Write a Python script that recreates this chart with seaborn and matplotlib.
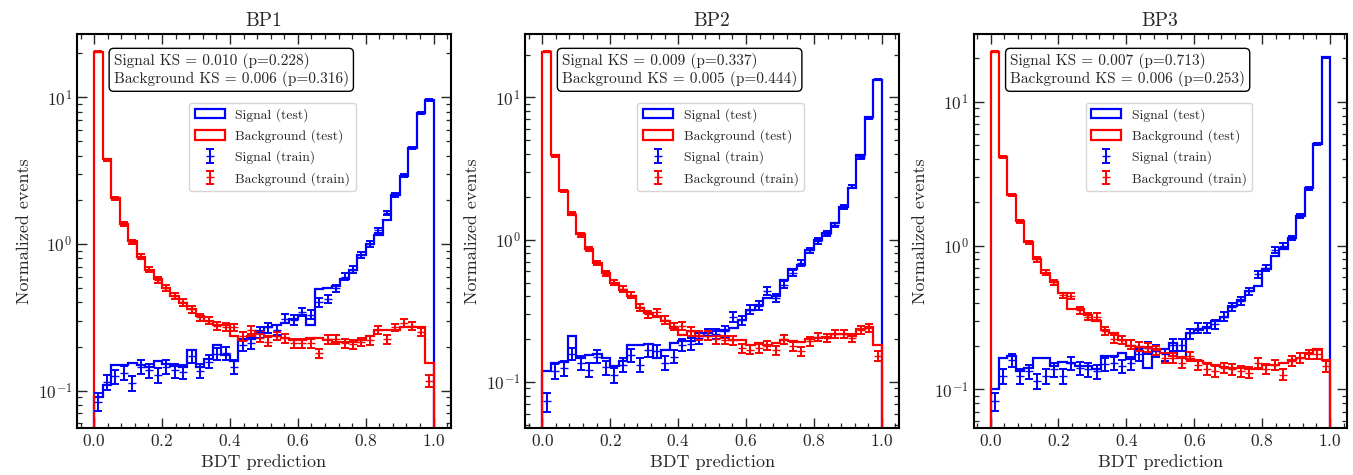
import numpy as np
import matplotlib
matplotlib.use("Agg")
import matplotlib.pyplot as plt
import seaborn as sns
from matplotlib.ticker import AutoMinorLocator

# bin edges of the BDT output (40 bins on [0, 1])
bin_edges = np.linspace(0.0, 1.0, 41)

panel_titles = ["BP1", "BP2", "BP3"]

# normalized test histograms (steps) and train points
sig_test_bp1 = [0.09, 0.11, 0.15, 0.15, 0.155, 0.15, 0.145, 0.16, 0.152, 0.148,
                0.145, 0.19, 0.145, 0.165, 0.205, 0.175, 0.16, 0.22, 0.225, 0.255,
                0.27, 0.28, 0.29, 0.31, 0.33, 0.28, 0.49, 0.50, 0.52, 0.58,
                0.67, 0.84, 1.0, 1.15, 1.46, 2.16, 2.91, 4.49, 7.86, 9.6]
sig_train_bp1 = [0.084, 0.115, 0.125, 0.133, 0.113, 0.146, 0.138, 0.128, 0.146, 0.138,
                 0.135, 0.172, 0.137, 0.158, 0.178, 0.18, 0.146, 0.205, 0.21, 0.25,
                 0.27, 0.26, 0.31, 0.305, 0.345, 0.33, 0.40, 0.425, 0.5, 0.6,
                 0.67, 0.84, 1.0, 1.24, 1.62, 2.16, 2.91, 4.5, 7.8, 9.6]
bkg_test_bp1 = [20.5, 3.78, 2.05, 1.37, 1.04, 0.82, 0.665, 0.574, 0.50, 0.44,
                0.394, 0.36, 0.323, 0.30, 0.28, 0.28, 0.236, 0.22, 0.236, 0.252,
                0.236, 0.236, 0.228, 0.22, 0.22, 0.228, 0.228, 0.22, 0.216, 0.216,
                0.216, 0.22, 0.236, 0.26, 0.26, 0.26, 0.27, 0.27, 0.27, 0.154]
bkg_train_bp1 = [20.5, 3.75, 2.05, 1.37, 1.03, 0.82, 0.67, 0.57, 0.50, 0.44,
                 0.40, 0.36, 0.316, 0.30, 0.276, 0.272, 0.27, 0.235, 0.26, 0.23,
                 0.216, 0.236, 0.228, 0.21, 0.21, 0.21, 0.18, 0.224, 0.224, 0.21,
                 0.208, 0.215, 0.22, 0.26, 0.224, 0.27, 0.29, 0.276, 0.252, 0.117]

sig_test_bp2 = [0.119, 0.136, 0.138, 0.209, 0.147, 0.155, 0.158, 0.147, 0.129, 0.14,
                0.183, 0.183, 0.186, 0.147, 0.167, 0.188, 0.193, 0.193, 0.209, 0.221,
                0.227, 0.233, 0.24, 0.273, 0.322, 0.35, 0.39, 0.40, 0.52, 0.62,
                0.66, 0.84, 1.0, 1.12, 1.30, 1.71, 2.29, 3.93, 7.3, 13.2]
sig_train_bp2 = [0.073, 0.119, 0.125, 0.158, 0.137, 0.122, 0.151, 0.127, 0.112, 0.132,
                 0.155, 0.132, 0.167, 0.164, 0.137, 0.151, 0.183, 0.186, 0.204, 0.215,
                 0.218, 0.227, 0.286, 0.271, 0.322, 0.344, 0.438, 0.39, 0.483, 0.583,
                 0.686, 0.84, 0.98, 1.1, 1.27, 1.71, 2.36, 3.8, 7.2, 13.4]
bkg_test_bp2 = [20.9, 3.93, 2.21, 1.49, 1.1, 0.86, 0.686, 0.583, 0.496, 0.445,
                0.40, 0.331, 0.305, 0.286, 0.267, 0.24, 0.215, 0.227, 0.209, 0.212,
                0.209, 0.204, 0.198, 0.198, 0.183, 0.188, 0.183, 0.188, 0.198, 0.193,
                0.19, 0.20, 0.204, 0.207, 0.218, 0.218, 0.212, 0.236, 0.243, 0.183]
bkg_train_bp2 = [20.9, 3.9, 2.2, 1.53, 1.08, 0.86, 0.686, 0.577, 0.50, 0.45,
                 0.41, 0.336, 0.30, 0.31, 0.274, 0.246, 0.249, 0.227, 0.212, 0.212,
                 0.20, 0.198, 0.196, 0.173, 0.169, 0.173, 0.18, 0.167, 0.20, 0.178,
                 0.164, 0.193, 0.207, 0.204, 0.218, 0.218, 0.204, 0.233, 0.24, 0.153]

sig_test_bp3 = [0.10, 0.165, 0.17, 0.135, 0.14, 0.165, 0.165, 0.145, 0.155, 0.153,
                0.145, 0.145, 0.138, 0.172, 0.17, 0.178, 0.163, 0.185, 0.14, 0.19,
                0.19, 0.21, 0.166, 0.247, 0.26, 0.27, 0.30, 0.32, 0.38, 0.42,
                0.48, 0.52, 0.69, 0.85, 0.94, 1.13, 1.6, 2.5, 5.1, 20.3]
sig_train_bp3 = [0.083, 0.124, 0.16, 0.124, 0.134, 0.115, 0.124, 0.138, 0.124, 0.153,
                 0.141, 0.138, 0.134, 0.15, 0.152, 0.145, 0.153, 0.175, 0.195, 0.185,
                 0.175, 0.205, 0.205, 0.245, 0.268, 0.268, 0.283, 0.32, 0.375, 0.41,
                 0.48, 0.63, 0.70, 0.93, 1.0, 1.13, 1.6, 2.5, 5.1, 20.3]
bkg_test_bp3 = [22.2, 4.1, 2.25, 1.47, 1.05, 0.80, 0.646, 0.556, 0.47, 0.36,
                0.36, 0.327, 0.30, 0.26, 0.245, 0.222, 0.20, 0.195, 0.198, 0.19,
                0.18, 0.172, 0.169, 0.163, 0.157, 0.153, 0.149, 0.144, 0.141, 0.141,
                0.138, 0.138, 0.147, 0.149, 0.153, 0.16, 0.166, 0.178, 0.19, 0.16]
bkg_train_bp3 = [22.2, 4.1, 2.25, 1.47, 1.05, 0.80, 0.646, 0.556, 0.45, 0.445,
                 0.355, 0.32, 0.32, 0.254, 0.225, 0.222, 0.205, 0.20, 0.195, 0.188,
                 0.166, 0.166, 0.153, 0.17, 0.149, 0.138, 0.134, 0.141, 0.138, 0.134,
                 0.131, 0.153, 0.139, 0.149, 0.127, 0.157, 0.166, 0.175, 0.175, 0.145]

# KS test results shown in the boxes
ks_sig = [0.010, 0.009, 0.007]
p_sig = [0.228, 0.337, 0.713]
ks_bkg = [0.006, 0.005, 0.006]
p_bkg = [0.316, 0.444, 0.253]

# effective counts per unit density (sets the poisson error bar size)
n_eff_sig = 600
n_eff_bkg = 1000

y_limits = [(0.0557, 27.0), (0.0475, 27.9), (0.054, 29.5)]

sig_test = [sig_test_bp1, sig_test_bp2, sig_test_bp3]
sig_train = [sig_train_bp1, sig_train_bp2, sig_train_bp3]
bkg_test = [bkg_test_bp1, bkg_test_bp2, bkg_test_bp3]
bkg_train = [bkg_train_bp1, bkg_train_bp2, bkg_train_bp3]

sns.set_theme(style="ticks")
plt.rcParams["font.family"] = "serif"
plt.rcParams["font.serif"] = ["cmr10", "DejaVu Serif"]
plt.rcParams["mathtext.fontset"] = "cm"
plt.rcParams["axes.formatter.use_mathtext"] = True
plt.rcParams["axes.unicode_minus"] = False

centers = 0.5 * (bin_edges[:-1] + bin_edges[1:])

fig, axes = plt.subplots(1, 3, figsize=(13.53, 4.75), dpi=100)
fig.subplots_adjust(left=0.057, right=0.9956, bottom=0.099, top=0.9284, wspace=0.2)

for i, ax in enumerate(axes):
    st = np.array(sig_test[i])
    sr = np.array(sig_train[i])
    bt = np.array(bkg_test[i])
    br = np.array(bkg_train[i])

    ax.hist(centers, bins=bin_edges, weights=st, histtype="step",
            color="blue", linewidth=1.6, label="Signal (test)", log=True)
    ax.hist(centers, bins=bin_edges, weights=bt, histtype="step",
            color="red", linewidth=1.6, label="Background (test)", log=True)

    ax.errorbar(centers, sr, yerr=np.sqrt(sr / n_eff_sig), fmt="_", color="blue",
                markersize=6, elinewidth=1.4, capsize=3, capthick=1.4,
                label="Signal (train)")
    ax.errorbar(centers, br, yerr=np.sqrt(br / n_eff_bkg), fmt="_", color="red",
                markersize=6, elinewidth=1.4, capsize=3, capthick=1.4,
                label="Background (train)")

    ax.set_yscale("log")
    ax.set_xlim(-0.05, 1.05)
    ax.set_ylim(*y_limits[i])
    ax.set_xticks([0.0, 0.2, 0.4, 0.6, 0.8, 1.0])
    ax.xaxis.set_minor_locator(AutoMinorLocator(5))

    ax.tick_params(which="both", direction="in", top=True, right=True,
                   labelsize=12.5)
    ax.tick_params(which="major", length=7, width=1.0)
    ax.tick_params(which="minor", length=3.5, width=0.9)
    for sp in ax.spines.values():
        sp.set_linewidth(1.5)
        sp.set_color("black")

    ax.set_title(panel_titles[i], fontsize=14, pad=6)
    ax.set_xlabel("BDT prediction", fontsize=13)
    ax.set_ylabel("Normalized events", fontsize=13)

    ks_text = (f"Signal KS = {ks_sig[i]:.3f} (p={p_sig[i]:.3f})\n"
               f"Background KS = {ks_bkg[i]:.3f} (p={p_bkg[i]:.3f})")
    ax.text(0.098, 0.952, ks_text, transform=ax.transAxes, fontsize=11,
            va="top", ha="left", linespacing=1.15,
            bbox=dict(boxstyle="round,pad=0.3", facecolor="white",
                      edgecolor="black", linewidth=1.0))

    ax.legend(loc="upper left", bbox_to_anchor=(0.30, 0.826), borderaxespad=0,
              fontsize=9.8, frameon=True, labelspacing=0.55, handlelength=2.2)

fig.savefig("out.png", dpi=100)
